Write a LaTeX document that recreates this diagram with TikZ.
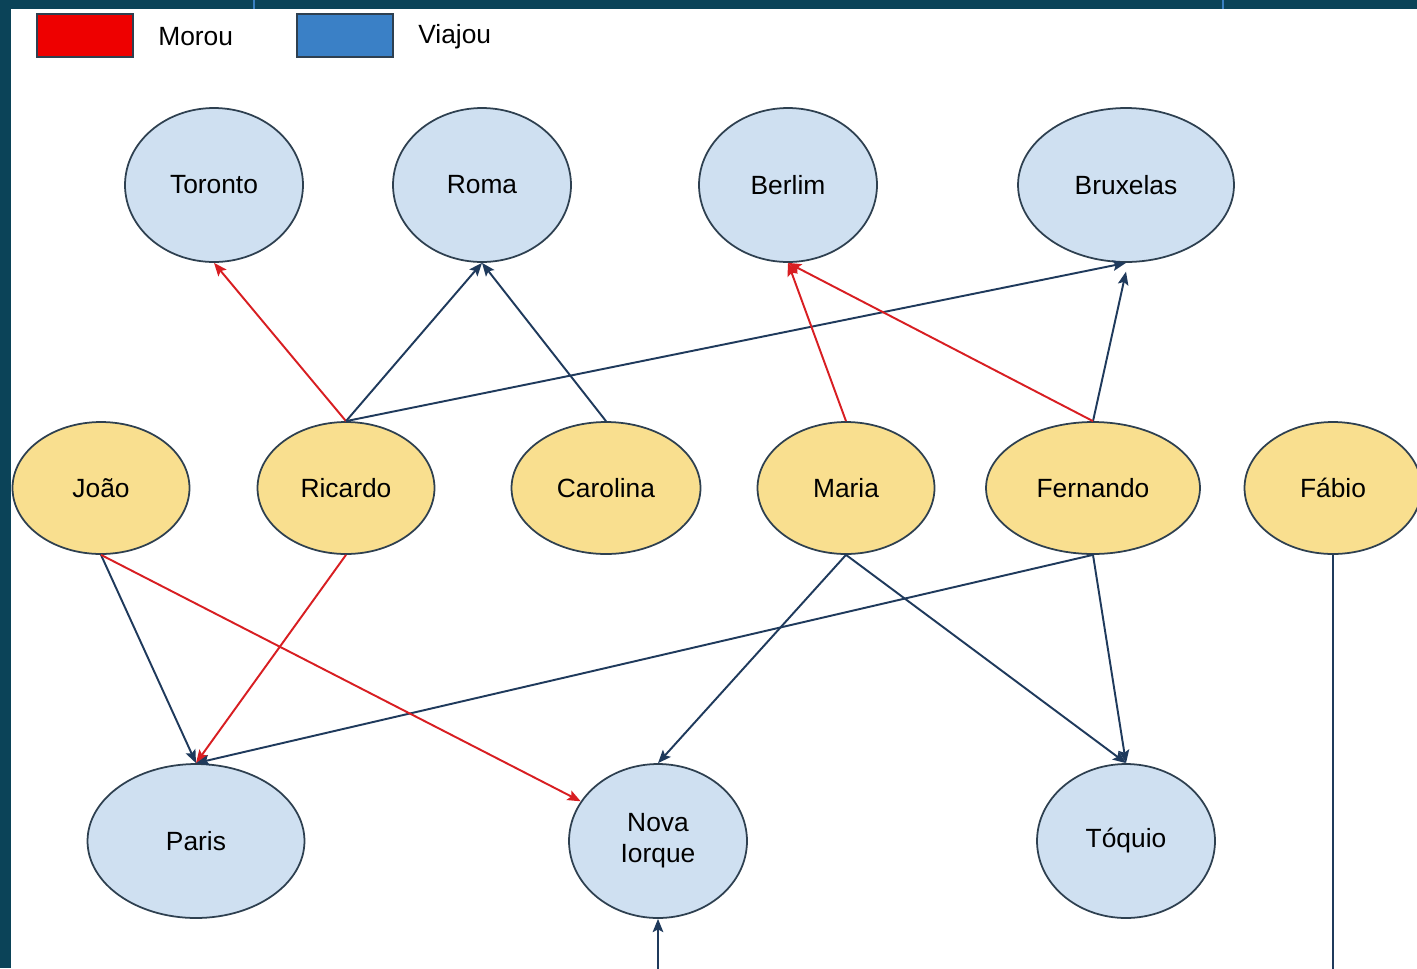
\documentclass[tikz,border=0pt]{standalone}
\usepackage{fontspec}
\setmainfont{Liberation Sans}
\usetikzlibrary{arrows.meta,shapes.geometric}
\definecolor{bgteal}{HTML}{0B4358}
\definecolor{tickblue}{HTML}{3A7FC0}
\definecolor{edgegray}{HTML}{2E4050}
\definecolor{placeblue}{HTML}{CFE0F1}
\definecolor{personyellow}{HTML}{F9DF8F}
\definecolor{morured}{HTML}{D81E22}
\definecolor{viajounavy}{HTML}{1F3A5C}
\definecolor{legendred}{HTML}{EE0000}
\definecolor{legendblue}{HTML}{3A80C6}

\begin{document}
\begin{tikzpicture}[
        x=0.02cm, y=-0.02cm,
        every node/.style={color=black, font=\fontsize{15}{18}\selectfont},
        place/.style={ellipse, draw=edgegray, line width=1pt, fill=placeblue,
            minimum width=3.56cm, minimum height=3.08cm, inner sep=0pt},
        person/.style={ellipse, draw=edgegray, line width=1pt, fill=personyellow,
            minimum width=3.54cm, minimum height=2.64cm, inner sep=0pt},
        morou/.style={draw=morured, line width=1.1pt, ->,
            >={Stealth[length=7.5pt, width=6pt, inset=1.5pt]}},
        viajou/.style={draw=viajounavy, line width=1.1pt, ->,
            >={Stealth[length=7.5pt, width=6pt, inset=1.5pt]}},
        key/.style={draw=edgegray, line width=0.8pt, minimum width=1.92cm,
            minimum height=0.86cm, inner sep=0pt},
    ]
    \useasboundingbox (0,0) rectangle (1417,968);
    \clip (0,0) rectangle (1417,968);
    % frame
    \fill[bgteal] (0,0) rectangle (1417,968);
    \fill[white] (11,9) rectangle (1417,968);
    \draw[tickblue, line width=1pt] (254,0) -- (254,9);
    \draw[tickblue, line width=1pt] (1223,0) -- (1223,9);
    % legend
    \node[key, fill=legendred] (keymorou) at (85,35.5) {};
    \node[anchor=west, inner sep=0pt] (txtmorou) at (158,37) {Morou};
    \node[key, fill=legendblue] (keyviajou) at (345,35.5) {};
    \node[anchor=west, inner sep=0pt] (txtviajou) at (418,37) {Viajou};
    % cities
    \node[place] (toronto) at (214,185) {Toronto};
    \node[place] (roma) at (482,185) {Roma};
    \node[place] (berlim) at (788,185) {Berlim};
    \node[place, minimum width=4.32cm] (bruxelas) at (1126,185) {Bruxelas};
    \node[place, minimum width=4.34cm] (paris) at (196,841) {Paris};
    \node[place, align=center] (nova) at (658,841) {Nova\\[-0.5pt]Iorque};
    \node[place] (toquio) at (1126,841) {Tóquio};
    % people
    \node[person] (joao) at (101,488) {João};
    \node[person] (ricardo) at (346,488) {Ricardo};
    \node[person, minimum width=3.78cm] (carolina) at (606,488) {Carolina};
    \node[person] (maria) at (846,488) {Maria};
    \node[person, minimum width=4.28cm] (fernando) at (1093,488) {Fernando};
    \node[person] (fabio) at (1333,488) {Fábio};
    % upper links
    \draw[morou] (ricardo.north) -- (toronto.south);
    \draw[viajou] (ricardo.north) -- (roma.south);
    \draw[viajou] (carolina.north) -- (roma.south);
    \draw[viajou] (ricardo.north) -- (bruxelas.south);
    \draw[viajou] (fernando.north) -- ([yshift=-5pt]bruxelas.south);
    \draw[morou] (maria.north) -- (berlim.south);
    \draw[morou] (fernando.north) -- (berlim.south);
    % lower links
    \draw[viajou] (joao.south) -- (paris.north);
    \draw[morou] (ricardo.south) -- (paris.north);
    \draw[viajou] (fernando.south) -- (paris.north);
    \draw[morou] (joao.south) -- (nova);
    \draw[viajou] (maria.south) -- (nova.north);
    \draw[viajou] (maria.south) -- (toquio.north);
    \draw[viajou] (fernando.south) -- (toquio.north);
    \draw[viajou] (fabio.south) -- ++(0,520) -| (nova.south);
\end{tikzpicture}
\end{document}
